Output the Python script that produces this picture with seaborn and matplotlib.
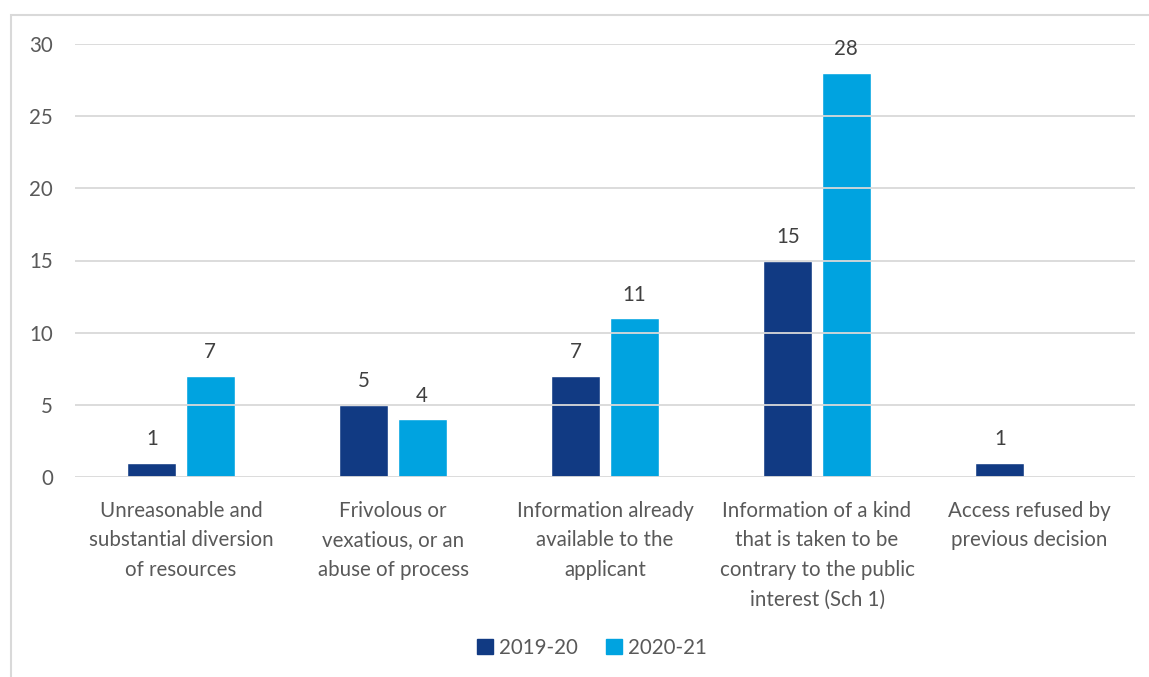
import matplotlib
matplotlib.use("Agg")
import matplotlib.pyplot as plt
import matplotlib.patches as mpatches
import pandas as pd
import seaborn as sns

categories = [
    "Unreasonable and\nsubstantial diversion\nof resources",
    "Frivolous or\nvexatious, or an\nabuse of process",
    "Information already\navailable to the\napplicant",
    "Information of a kind\nthat is taken to be\ncontrary to the public\ninterest (Sch 1)",
    "Access refused by\nprevious decision",
]
years = ["2019-20", "2020-21"]
values_2019_20 = [1, 5, 7, 15, 1]
values_2020_21 = [7, 4, 11, 28, 0]
y_ticks = [0, 5, 10, 15, 20, 25, 30]

palette = {"2019-20": "#113A83", "2020-21": "#00A3E0"}

df = pd.DataFrame({
    "category": categories * 2,
    "year": [years[0]] * len(categories) + [years[1]] * len(categories),
    "count": values_2019_20 + values_2020_21,
})

sns.set_theme(style="white")
plt.rcParams["font.family"] = ["Lato", "DejaVu Sans"]
FS = 14.8

fig = plt.figure(figsize=(11.49, 6.77), dpi=100)
ax = fig.add_axes([75 / 1149, 1 - 477 / 677, 1060 / 1149, 433 / 677])

sns.barplot(data=df, x="category", y="count", hue="year", order=categories,
            hue_order=years, palette=palette, width=0.55, gap=0.16,
            saturation=1, ax=ax, legend=False, zorder=2)

ax.set_ylim(0, 30)
ax.set_xlim(-0.5, len(categories) - 0.5)
ax.set_yticks(y_ticks)
ax.yaxis.grid(True, color="#D9D9D9", linewidth=1.3, zorder=3)
ax.set_axisbelow(False)
for s in ax.spines.values():
    s.set_visible(False)
ax.set_xlabel("")
ax.set_ylabel("")
ax.tick_params(axis="y", length=0, pad=16, labelsize=FS, labelcolor="#595959")
ax.tick_params(axis="x", length=0, pad=17, labelsize=FS, labelcolor="#595959")
for lbl in ax.get_xticklabels():
    lbl.set_linespacing(1.6)
    lbl.set_verticalalignment("top")

for container in ax.containers:
    for bar in container:
        h = bar.get_height()
        if h > 0:
            ax.annotate(f"{h:g}", (bar.get_x() + bar.get_width() / 2, h),
                        xytext=(0, 17), textcoords="offset points",
                        ha="center", va="center", fontsize=FS,
                        color="#404040", annotation_clip=False)

handles = [mpatches.Patch(color=palette[y], label=y) for y in years]
fig.legend(handles=handles, loc="center", bbox_to_anchor=(592 / 1149, 1 - 648 / 677),
           ncol=2, frameon=False, fontsize=FS, handlelength=0.75, handleheight=0.75,
           handletextpad=0.3, columnspacing=1.4, labelcolor="#595959")

fig.patches.append(mpatches.Rectangle((11 / 1149, -0.05), 1.1, 1 - 15 / 677 + 0.05,
                                      transform=fig.transFigure, fill=False,
                                      edgecolor="#D9D9D9", linewidth=1.5))

fig.savefig("out.png", dpi=100)
